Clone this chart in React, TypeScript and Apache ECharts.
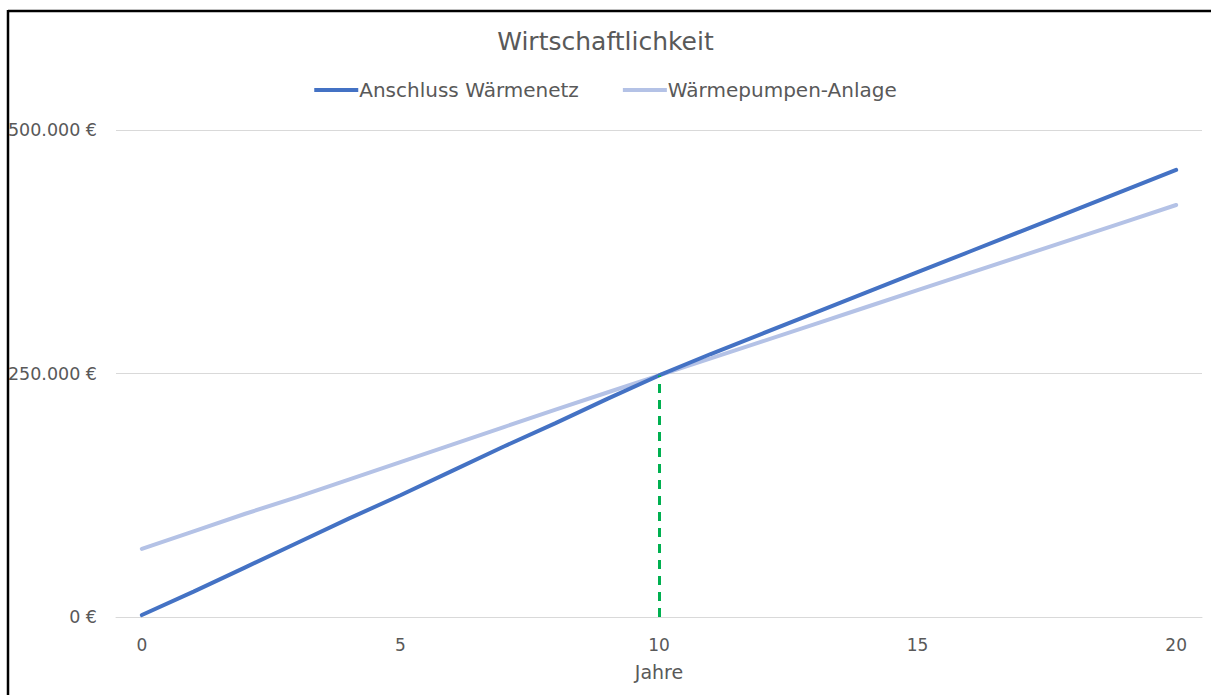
import React, { useEffect, useRef } from "react";
import * as echarts from "echarts";

const years: string[] = Array.from({ length: 21 }, (_, i) => String(i));

const waermenetz: number[] = [
  2000, 26000, 51000, 76000, 101000, 125000, 150000, 175000, 199000, 224000,
  248000, 270000, 291000, 312000, 333000, 354000, 375000, 396000, 417000,
  438000, 459000,
];

const waermepumpe: number[] = [
  70000, 88000, 106000, 123000, 141000, 159000, 177000, 195000, 213000,
  230500, 248000, 265500, 283000, 300500, 318000, 335500, 353000, 370500,
  388000, 405500, 423000,
];

// Break-even year and cost where both lines meet
const breakEvenYear = "10";
const breakEvenValue = 248000;

const FONT = "DejaVu Sans";
const TEXT = "#595959";

function euro(v: number): string {
  const s = Math.round(v).toString().replace(/\B(?=(\d{3})+(?!\d))/g, ".");
  return s + " €";
}

export default function App() {
  const ref = useRef<HTMLDivElement>(null);

  useEffect(() => {
    if (!ref.current) return;
    const chart = echarts.init(ref.current, undefined, { renderer: "svg" });
    chart.setOption({
      animation: false,
      backgroundColor: "#ffffff",
      textStyle: { fontFamily: FONT },
      title: {
        text: "Wirtschaftlichkeit",
        left: "center",
        top: 24,
        textStyle: { fontFamily: FONT, fontSize: 25, fontWeight: "normal", color: TEXT },
      },
      legend: {
        top: 75,
        left: "center",
        itemWidth: 44,
        itemHeight: 4,
        itemGap: 44,
        icon: "rect",
        textStyle: { fontFamily: FONT, fontSize: 20, color: TEXT, padding: [0, 0, 0, -4] },
        data: ["Anschluss Wärmenetz", "Wärmepumpen-Anlage"],
      },
      grid: { left: 116, right: 9, top: 130, bottom: 78, containLabel: false },
      xAxis: {
        type: "category",
        data: years,
        boundaryGap: true,
        name: "Jahre",
        nameLocation: "middle",
        nameGap: 45,
        nameTextStyle: { fontFamily: FONT, fontSize: 19, color: TEXT },
        axisLine: { show: true, lineStyle: { color: "#D9D9D9", width: 1 } },
        axisTick: { show: false },
        axisLabel: { interval: 4, margin: 19, fontFamily: FONT, fontSize: 17, color: TEXT },
        splitLine: { show: false },
      },
      yAxis: {
        type: "value",
        min: 0,
        max: 500000,
        interval: 250000,
        axisLine: { show: false },
        axisTick: { show: false },
        axisLabel: { margin: 19, fontFamily: FONT, fontSize: 17.5, color: TEXT, formatter: euro },
        splitLine: { lineStyle: { color: "#D9D9D9", width: 1 } },
      },
      series: [
        {
          name: "Wärmepumpen-Anlage",
          type: "line",
          data: waermepumpe,
          showSymbol: false,
          symbol: "none",
          lineStyle: { color: "#B4C2E6", width: 4, cap: "round" },
          itemStyle: { color: "#B4C2E6" },
          z: 2,
        },
        {
          name: "Anschluss Wärmenetz",
          type: "line",
          data: waermenetz,
          showSymbol: false,
          symbol: "none",
          lineStyle: { color: "#4472C4", width: 4, cap: "round" },
          itemStyle: { color: "#4472C4" },
          z: 3,
          markLine: {
            silent: true,
            symbol: "none",
            label: { show: false },
            lineStyle: { color: "#00B050", width: 3, type: [9, 7] },
            data: [
              [
                { coord: [breakEvenYear, 0] },
                { coord: [breakEvenYear, breakEvenValue] },
              ],
            ],
          },
        },
      ],
      graphic: [
        {
          type: "line",
          shape: { x1: 8, y1: 11, x2: 1211, y2: 11 },
          style: { stroke: "#000000", lineWidth: 2.5 },
          z: 100,
        },
        {
          type: "line",
          shape: { x1: 8, y1: 10, x2: 8, y2: 695 },
          style: { stroke: "#000000", lineWidth: 2.5 },
          z: 100,
        },
      ],
    });
    return () => chart.dispose();
  }, []);

  return (
    <div
      ref={ref}
      style={{ position: "fixed", left: 0, top: 0, width: 1211, height: 695 }}
    />
  );
}
